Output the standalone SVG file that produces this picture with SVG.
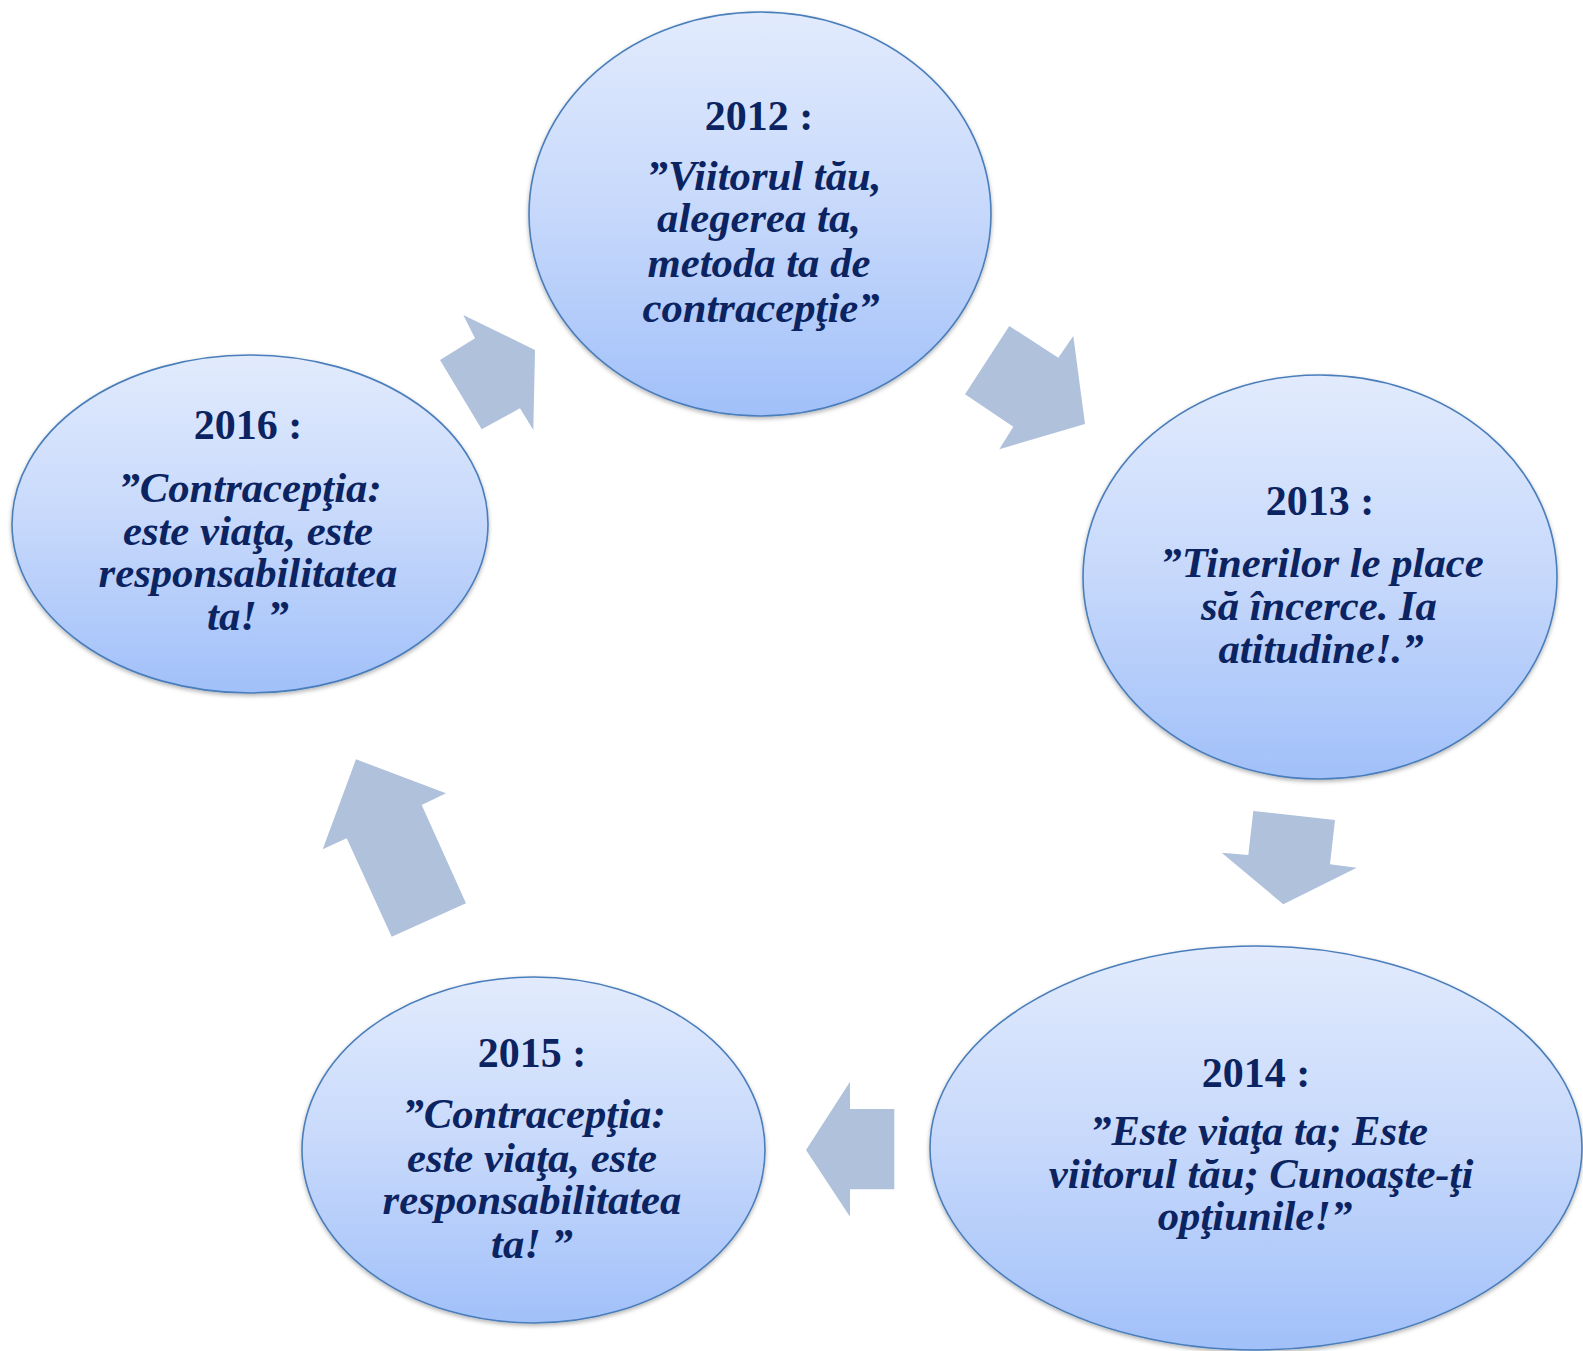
<svg xmlns="http://www.w3.org/2000/svg" width="1583" height="1351" viewBox="0 0 1583 1351">
<defs>
<linearGradient id="g" x1="0" y1="0" x2="0" y2="1">
<stop offset="0" stop-color="#E2EBFD"/>
<stop offset="0.5" stop-color="#C6D8FB"/>
<stop offset="1" stop-color="#A1C0F9"/>
</linearGradient>
<filter id="sh" x="-10%" y="-10%" width="120%" height="125%">
<feDropShadow dx="0" dy="2" stdDeviation="2" flood-color="#000" flood-opacity="0.3"/>
</filter>
<style>
.node ellipse{fill:url(#g);stroke:#4A7EBB;stroke-width:1.6;filter:url(#sh)}
.yr{font-family:"Liberation Serif","Times New Roman",serif;font-weight:bold;font-size:42px;fill:#0B2461;text-anchor:middle}
.q{font-family:"Liberation Serif","Times New Roman",serif;font-weight:bold;font-style:italic;font-size:42.7px;fill:#0B2461;text-anchor:middle}
.arr{fill:#B0C1DC}
</style>
</defs>
<rect width="1583" height="1351" fill="#FFFFFF"/>
<g id="connectors">
<polygon class="arr" points="463.3,315 535,350 533.3,430 520,408.3 481.7,429.3 440,360 475,338.3"/>
<polygon class="arr" points="1009.3,326 1058.3,357.7 1073.3,336 1085,424 999.3,449.3 1013.3,426.7 965,394.3"/>
<polygon class="arr" points="1253.3,811 1335,820 1330,864.3 1356.7,867.7 1283.3,904.3 1221.7,852.7 1248.3,855"/>
<polygon class="arr" points="850,1081.7 850,1109 894.3,1109 894.3,1189.3 850,1189.3 850,1216.7 806,1150"/>
<polygon class="arr" points="356,759.3 446,793.3 421.7,805 466,903.3 391.7,936.7 346.7,838.3 322.7,849.3"/>
</g>
<g id="n2012" class="node">
<ellipse cx="760" cy="214" rx="231" ry="202"/>
<text class="yr" x="759" y="130">2012 :</text>
<text class="q" x="764" y="190">”Viitorul tău,</text>
<text class="q" x="759" y="232">alegerea ta,</text>
<text class="q" x="759" y="277">metoda ta de</text>
<text class="q" x="761" y="322">contracepţie”</text>
</g>
<g id="n2013" class="node">
<ellipse cx="1320" cy="577" rx="237" ry="202"/>
<text class="yr" x="1320" y="515">2013 :</text>
<text class="q" x="1322" y="577">”Tinerilor le place</text>
<text class="q" x="1319" y="620">să încerce. Ia</text>
<text class="q" x="1321" y="663">atitudine!.”</text>
</g>
<g id="n2014" class="node">
<ellipse cx="1256" cy="1148" rx="326" ry="202"/>
<text class="yr" x="1256" y="1087">2014 :</text>
<text class="q" x="1259" y="1145">”Este viaţa ta; Este</text>
<text class="q" x="1261" y="1188">viitorul tău; Cunoaşte-ţi</text>
<text class="q" x="1255" y="1230">opţiunile!”</text>
</g>
<g id="n2015" class="node">
<ellipse cx="533.5" cy="1150" rx="231.5" ry="173"/>
<text class="yr" x="532" y="1067">2015 :</text>
<text class="q" x="534" y="1128">”Contracepţia:</text>
<text class="q" x="532" y="1172">este viaţa, este</text>
<text class="q" x="532" y="1214">responsabilitatea</text>
<text class="q" x="532" y="1258">ta! ”</text>
</g>
<g id="n2016" class="node">
<ellipse cx="250" cy="524" rx="238" ry="169"/>
<text class="yr" x="248" y="439">2016 :</text>
<text class="q" x="250" y="502">”Contracepţia:</text>
<text class="q" x="248" y="545">este viaţa, este</text>
<text class="q" x="248" y="587">responsabilitatea</text>
<text class="q" x="248" y="630">ta! ”</text>
</g>
</svg>
